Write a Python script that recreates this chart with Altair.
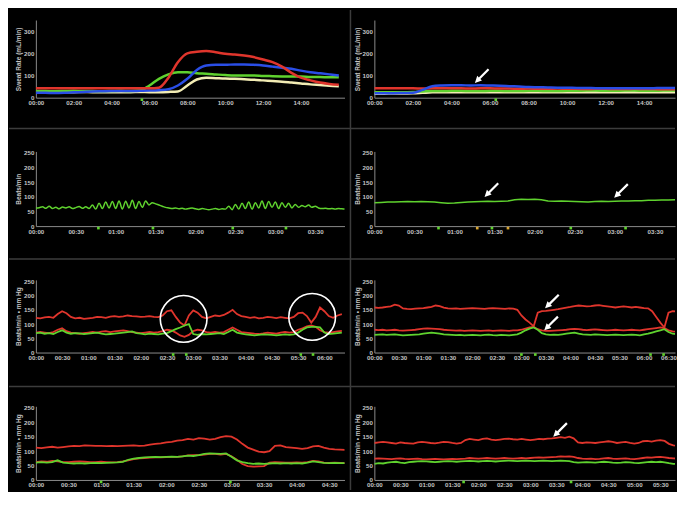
import json
import altair as alt
import pandas as pd

RED = "#e0352c"
GREEN = "#5fd22e"
BLUE = "#2a4ee6"
CREAM = "#f2ecb4"
AMBER = "#d9a531"
SEP = "#3c3c3c"
TXT = "#c4c4c4"
ARROW = "M-1,1L-0.682,0.046L-0.47,0.258L0.744,-0.956L0.956,-0.744L-0.258,0.47L-0.046,0.682Z"

# ---------------- tick labels ----------------
sweat_ticks = [0, 2, 4, 6, 8, 10, 12, 14]
sweat_labels = ["00:00", "02:00", "04:00", "06:00", "08:00", "10:00", "12:00", "14:00"]
hr_ticks = [0, 30, 60, 90, 120, 150, 180, 210]
hr_labels = ["00:00", "00:30", "01:00", "01:30", "02:00", "02:30", "03:00", "03:30"]
p5_ticks = [0, 30, 60, 90, 120, 150, 180, 210, 240, 270, 300, 330]
p5_labels = ["00:00", "00:30", "01:00", "01:30", "02:00", "02:30", "03:00", "03:30",
             "04:00", "04:30", "05:30", "06:00"]
p6_ticks = [0, 30, 60, 90, 120, 150, 180, 210, 240, 270, 300, 330, 360]
p6_labels = ["00:00", "00:30", "01:00", "01:30", "02:00", "02:30", "03:00", "03:30",
             "04:00", "04:30", "05:30", "06:00", "06:30"]
p7_ticks = [0, 30, 60, 90, 120, 150, 180, 210, 240, 270]
p7_labels = ["00:00", "00:30", "01:00", "01:30", "02:00", "02:30", "03:00", "03:30",
             "04:00", "04:30"]
p8_ticks = [0, 30, 60, 90, 120, 150, 180, 210, 240, 270, 300, 330]
p8_labels = ["00:00", "00:30", "01:00", "01:30", "02:00", "02:30", "03:00", "03:30",
             "04:00", "04:30", "05:00", "05:30"]
sweat_yticks = [0, 100, 200, 300]
bp_yticks = [0, 50, 100, 150, 200, 250]

# ---------------- panel 1: sweat rate (hours) ----------------
sweat_hours = [i / 2 for i in range(33)]
p1_red = [42, 43, 42, 42, 43, 42, 42, 43, 42, 42, 43, 42, 42, 45, 90, 160, 200, 207, 210, 205,
          198, 195, 190, 183, 172, 160, 140, 112, 90, 78, 68, 62, 58]
p1_blue = [22, 22, 21, 22, 24, 26, 28, 29, 30, 30, 30, 31, 32, 34, 38, 55, 85, 125, 145, 148,
           148, 150, 150, 148, 145, 140, 135, 130, 122, 115, 110, 105, 100]
p1_green = [30, 30, 29, 30, 31, 30, 30, 29, 30, 31, 30, 32, 55, 85, 105, 115, 115, 110, 108, 105,
            102, 100, 100, 100, 98, 97, 96, 95, 95, 93, 93, 92, 92]
p1_cream = [25, 25, 24, 25, 25, 26, 25, 25, 24, 25, 25, 26, 25, 25, 26, 28, 55, 82, 90, 88,
            86, 85, 83, 81, 78, 75, 72, 68, 64, 60, 57, 54, 52]
p1_marks = [5.6]

# ---------------- panel 2 ----------------
p2_red = [42, 42, 43, 42, 42, 41, 42, 43, 42, 42, 41, 42, 42, 41, 41, 40, 41, 40, 40, 41,
          40, 40, 39, 40, 40, 39, 39, 40, 39, 39, 38, 38, 38]
p2_blue = [20, 20, 20, 21, 22, 35, 52, 55, 56, 56, 55, 56, 55, 54, 52, 50, 48, 47, 46, 45,
           45, 44, 44, 43, 43, 43, 42, 42, 42, 43, 44, 44, 44]
p2_green = [24, 24, 25, 25, 26, 28, 30, 30, 31, 31, 30, 30, 31, 31, 30, 30, 31, 31, 30, 30,
            31, 31, 32, 32, 31, 31, 32, 32, 31, 31, 32, 32, 32]
p2_cream = [18, 18, 19, 19, 20, 22, 24, 25, 25, 24, 24, 25, 25, 24, 24, 25, 25, 24, 24, 25,
            25, 24, 24, 24, 25, 25, 24, 24, 25, 25, 24, 24, 24]
p2_marks = [6.3]
p2_arrows = ([5.6], [100])

# ---------------- panel 3: heart rate ----------------
p3_t = [i * 2.5 for i in range(94)]
p3_hr = [62, 63, 66, 61, 68, 60, 64, 59, 65, 62, 66, 60, 63, 67, 61, 66, 60,
         72, 58, 78, 60, 82, 62, 84, 60, 86, 58, 85, 62, 88, 60, 84, 64, 86, 72, 80, 76, 72,
         68, 64, 62, 60, 62, 59, 61, 58, 60, 62, 59, 57, 60, 58, 56, 58, 60, 57, 59, 58,
         68, 56, 74, 58, 78, 60, 82, 58, 80, 62, 86, 60, 84, 64, 82, 60, 80, 64, 78, 62, 74,
         64, 70, 66, 72, 64, 68,
         62, 60, 61, 59, 60, 58, 60, 59, 58]
p3_marks = [47, 88, 148, 188]

# ---------------- panel 4 ----------------
p4_t = [i * 5 for i in range(47)]
p4_hr = [80, 81, 82, 82, 83, 84, 83, 84, 83, 82, 80, 78, 79, 81, 82, 83, 84, 85, 84, 85,
         86, 90, 92, 91, 92, 90, 86, 85, 86, 85, 84, 83, 82, 84, 85, 84, 85, 86, 86, 87,
         87, 88, 88, 89, 89, 90, 90]
p4_marks = [48, 77, 88, 100, 147, 188]
p4_mark_colors = [GREEN, AMBER, GREEN, AMBER, GREEN, GREEN]
p4_arrows = ([88, 185], [125, 122])

# ---------------- panel 5 ----------------
p5_t = [i * 5 for i in range(71)]
p5_sys = [122, 120, 123, 125, 122, 135, 145, 138, 125, 120, 122, 118, 120,
          122, 125, 124, 122, 126, 128, 125, 127, 130, 128, 127, 125, 126, 128, 125, 124,
          130, 145, 148, 125, 105, 95, 130, 148, 140, 125, 120,
          125, 130, 128, 132, 140, 150, 135, 128,
          125, 122, 124, 120, 122, 125, 123, 121, 124, 122, 120,
          125, 138, 140, 128, 105, 125, 158, 145, 128, 122, 130, 135]
p5_dia = [70, 72, 70, 68, 72, 80, 85, 75, 70, 68, 66, 68, 70,
          72, 70, 73, 75, 72, 74, 76, 78, 75, 72, 70, 68, 70, 72, 70, 72,
          75, 80, 78, 70, 60, 55, 62, 75, 80, 78, 72,
          70, 72, 70, 72, 80, 88, 80, 72,
          70, 68, 66, 65, 67, 70, 68, 66, 70, 72, 70,
          72, 80, 85, 92, 95, 90, 78, 72, 70, 72, 74, 76]
p5_hr = [68, 70, 66, 68, 65, 72, 78, 70, 66, 68, 67, 65, 66,
         68, 70, 66, 64, 65, 66, 68, 70, 72, 74, 68, 66, 64, 66, 65, 64,
         66, 68, 75, 82, 88, 95, 100, 65, 62, 65, 64,
         65, 66, 68, 65, 72, 80, 70, 66,
         64, 62, 60, 62, 64, 63, 62, 60, 62, 64, 62,
         64, 70, 80, 88, 90, 90, 88, 70, 65, 66, 68, 70]
p5_marks = [157, 172, 303, 317]
p5_circles = ([169, 316], [118, 125])

# ---------------- panel 6 ----------------
p6_t = [i * 5 for i in range(76)]
p6_sys = [158, 157, 158, 160, 162, 168, 165,
          155, 153, 152, 154, 155, 156, 158, 160, 165, 163, 158,
          155, 154, 155, 153, 154, 155, 156, 155, 154, 153, 155, 156, 155, 154, 153, 155, 154,
          150, 130, 116, 105, 92, 140, 145, 146,
          148, 150, 152, 155, 158, 160,
          163, 165, 164, 162, 163, 165, 166, 164, 162, 160, 158, 160,
          162, 160, 158, 160, 158, 156,
          155, 145, 125, 105, 88, 140, 145, 144, 145]
p6_dia = [80, 79, 80, 78, 79, 80, 78,
          77, 78, 79, 80, 82, 84, 85, 84, 83, 82, 80,
          79, 78, 77, 78, 76, 77, 78, 77, 76, 77, 78, 76, 77, 78, 77, 76, 78,
          78, 80, 84, 88, 90, 82, 78, 76,
          76, 77, 78, 79, 80, 82,
          83, 82, 80, 79, 80, 81, 80, 79, 78, 79, 80, 79,
          78, 79, 80, 79, 78, 80,
          82, 84, 86, 88, 86, 78, 74, 73, 72]
p6_hr = [62, 63, 64, 62, 63, 64, 62,
         60, 61, 62, 63, 64, 66, 68, 70, 68, 66, 64,
         63, 62, 61, 62, 60, 61, 62, 61, 60, 62, 63, 61, 60, 62, 61, 60, 62,
         64, 70, 78, 84, 88, 80, 68, 64,
         62, 63, 62, 64, 66, 68,
         70, 66, 64, 63, 62, 64, 63, 62, 61, 62, 63, 62,
         61, 62, 63, 62, 60, 64,
         66, 70, 74, 78, 82, 72, 66, 64, 63]
p6_marks = [180, 197, 338, 354]
p6_arrows = ([218, 217], [181, 104])

# ---------------- panel 7 ----------------
p7_t = [i * 5 for i in range(58)]
p7_sys = [112, 110, 113, 115, 112, 114, 116, 118, 117, 120,
          119, 118, 118, 117, 118, 117, 118, 119, 120, 118,
          119, 122, 125, 127, 130, 132, 136, 138, 142, 140,
          145, 143, 140, 142, 148, 152, 150, 140, 125, 112,
          105, 98, 96, 100, 118, 120, 114, 112, 110, 108,
          110, 116, 118, 112, 108, 106, 105, 104]
p7_dia = [62, 64, 63, 66, 64, 62, 62, 63, 64, 63,
          62, 62, 63, 62, 61, 62, 64, 68, 72, 75,
          76, 77, 78, 78, 79, 80, 80, 82, 85, 86,
          86, 88, 90, 90, 88, 90, 82, 70, 55, 48,
          46, 47, 48, 60, 62, 61, 60, 60, 61, 60,
          62, 66, 64, 60, 59, 60, 59, 58]
p7_hr = [60, 62, 60, 62, 68, 60, 58, 57, 58, 57,
         58, 59, 58, 59, 60, 61, 63, 70, 74, 76,
         78, 79, 80, 79, 80, 81, 80, 82, 84, 83,
         86, 90, 92, 91, 90, 92, 80, 68, 62, 58,
         56, 57, 56, 57, 58, 57, 58, 57, 58, 57,
         60, 64, 62, 59, 58, 59, 58, 58]
p7_marks = [60, 179]

# ---------------- panel 8 ----------------
p8_t = [i * 5 for i in range(72)]
p8_sys = [128, 130, 132, 130, 128, 126, 130, 128, 127, 126,
          130, 132, 130, 128, 127, 129, 132, 131, 128, 126,
          128, 138, 142, 140, 138, 142, 144, 140, 138, 140,
          142, 143, 141, 140, 142, 140, 138, 140, 142, 141,
          143, 144, 146, 148, 146, 150, 144, 130, 128, 130,
          129, 128, 130, 132, 134, 132, 128, 130, 132, 128,
          126, 128, 134, 135, 133, 136, 138, 135, 125, 120,
          118, 116]
p8_dia = [74, 75, 74, 73, 72, 74, 75, 73, 72, 73,
          74, 72, 71, 72, 73, 72, 71, 72, 73, 72,
          73, 74, 76, 75, 74, 75, 76, 75, 74, 75,
          76, 75, 74, 75, 76, 75, 76, 77, 78, 77,
          78, 79, 80, 82, 81, 82, 80, 76, 74, 73,
          74, 72, 73, 75, 76, 74, 73, 74, 75, 73,
          72, 74, 76, 78, 77, 79, 80, 78, 76, 75,
          74, 74]
p8_hr = [56, 58, 57, 60, 62, 63, 60, 58, 62, 63,
         64, 65, 64, 63, 62, 63, 64, 65, 64, 63,
         64, 65, 66, 65, 64, 65, 66, 65, 64, 65,
         66, 67, 66, 65, 66, 67, 66, 65, 66, 67,
         66, 65, 66, 67, 66, 65, 62, 60, 61, 62,
         61, 60, 62, 63, 62, 60, 59, 60, 62, 61,
         59, 58, 60, 62, 63, 62, 63, 61, 58, 56,
         55, 55]
p8_marks = [103, 227]
p8_arrows = ([215], [175])


def panel(series, xdom, ticks, labels, ydom, yticks, ytitle, w, h, lw,
          marks=None, mark_colors=None, arrows=None, circles=None, extra=(),
          interp="linear"):
    xenc = alt.X("t:Q", scale=alt.Scale(domain=xdom, nice=False, zero=False),
                 axis=alt.Axis(values=ticks, title=None, labelOverlap=False, labelFlush=False,
                               labelExpr=f"{json.dumps(labels)}[indexof({json.dumps(ticks)}, datum.value)]"))
    yenc = alt.Y("v:Q", scale=alt.Scale(domain=ydom, nice=False),
                 axis=alt.Axis(values=yticks, title=ytitle, labelOverlap=False))
    layers = []
    for xs, ys, col in series:
        df = pd.DataFrame({"t": xs, "v": ys})
        layers.append(alt.Chart(df).mark_line(color=col, strokeWidth=lw, clip=True,
                                              interpolate=interp)
                      .encode(x=xenc, y=yenc))
    if marks:
        cols = mark_colors if mark_colors else [GREEN] * len(marks)
        mdf = pd.DataFrame({"t": marks, "v": [0] * len(marks), "c": cols})
        layers.append(alt.Chart(mdf).mark_square(size=7, opacity=1, yOffset=2)
                      .encode(x=xenc, y=yenc, color=alt.Color("c:N", scale=None)))
    if circles:
        cdf = pd.DataFrame({"t": circles[0], "v": circles[1]})
        layers.append(alt.Chart(cdf).mark_point(shape="circle", size=2200, filled=False,
                                                color="white", strokeWidth=1.6, opacity=1)
                      .encode(x=xenc, y=yenc))
    if arrows:
        adf = pd.DataFrame({"t": arrows[0], "v": arrows[1]})
        layers.append(alt.Chart(adf).mark_point(shape=ARROW, size=220, filled=True,
                                                color="white", opacity=1, strokeWidth=0)
                      .encode(x=xenc, y=yenc))
    layers.extend(extra)
    return alt.layer(*layers).properties(width=w, height=h)


LW, RW = 310, 302
HGAP = 30
VGAP = 54

one = pd.DataFrame({"k": [0]})
seps = [
    alt.Chart(one).mark_rule(color=SEP, strokeWidth=1.5).encode(
        x=alt.value(-27), x2=alt.value(LW + HGAP + RW), y=alt.value(yy))
    for yy in [109, 240, 368]
] + [
    alt.Chart(one).mark_rule(color=SEP, strokeWidth=1.5).encode(
        x=alt.value(316), y=alt.value(-10), y2=alt.value(472))
]

SW = "Sweat Rate (mL/min)"
BM = "Beats/min"
BMH = "Beats/min  •  mm Hg"

p1 = panel([(sweat_hours, p1_cream, CREAM), (sweat_hours, p1_green, GREEN),
            (sweat_hours, p1_blue, BLUE), (sweat_hours, p1_red, RED)],
           [0, 16.3], sweat_ticks, sweat_labels, [0, 350], sweat_yticks, SW, LW, 78, 2.5,
           marks=p1_marks, extra=seps, interp="monotone")
p2 = panel([(sweat_hours, p2_cream, CREAM), (sweat_hours, p2_green, GREEN),
            (sweat_hours, p2_red, RED), (sweat_hours, p2_blue, BLUE)],
           [0, 15.6], sweat_ticks, sweat_labels, [0, 350], sweat_yticks, SW, RW, 78, 2.5,
           marks=p2_marks, arrows=p2_arrows, interp="monotone")
p3 = panel([(p3_t, p3_hr, GREEN)], [0, 232], hr_ticks, hr_labels, [0, 255], bp_yticks, BM,
           LW, 75, 1.5, marks=p3_marks, interp="monotone")
p4 = panel([(p4_t, p4_hr, GREEN)], [0, 225], hr_ticks, hr_labels, [0, 255], bp_yticks, BM,
           RW, 75, 1.5, marks=p4_marks, mark_colors=p4_mark_colors, arrows=p4_arrows)
p5 = panel([(p5_t, p5_sys, RED), (p5_t, p5_dia, RED), (p5_t, p5_hr, GREEN)],
           [0, 353], p5_ticks, p5_labels, [0, 255], bp_yticks, BMH, LW, 73, 1.8,
           marks=p5_marks, circles=p5_circles)
p6 = panel([(p6_t, p6_sys, RED), (p6_t, p6_dia, RED), (p6_t, p6_hr, GREEN)],
           [0, 368], p6_ticks, p6_labels, [0, 255], bp_yticks, BMH, RW, 73, 1.8,
           marks=p6_marks, arrows=p6_arrows)
p7 = panel([(p7_t, p7_sys, RED), (p7_t, p7_dia, RED), (p7_t, p7_hr, GREEN)],
           [0, 284], p7_ticks, p7_labels, [0, 255], bp_yticks, BMH, LW, 74, 1.8,
           marks=p7_marks)
p8 = panel([(p8_t, p8_sys, RED), (p8_t, p8_dia, RED), (p8_t, p8_hr, GREEN)],
           [0, 347], p8_ticks, p8_labels, [0, 255], bp_yticks, BMH, RW, 74, 1.8,
           marks=p8_marks, arrows=p8_arrows)

chart = alt.concat(p1, p2, p3, p4, p5, p6, p7, p8, columns=2,
                   spacing={"row": VGAP, "column": HGAP}, bounds="flush").properties(
    padding={"left": 0, "top": 0, "right": 0, "bottom": 0},
    background="black",
).configure_view(stroke=None).configure_axis(
    labelColor=TXT, labelFont="Liberation Sans", labelFontSize=6.2, labelFontWeight="bold",
    titleColor=TXT, titleFont="Liberation Sans", titleFontSize=6.5, titleFontWeight="bold",
    domainColor="#8a8a8a", domainWidth=1, ticks=False, grid=False,
    labelPadding=2, titlePadding=2,
)

chart.save("out.html", embed_options={"renderer": "svg", "actions": False})
